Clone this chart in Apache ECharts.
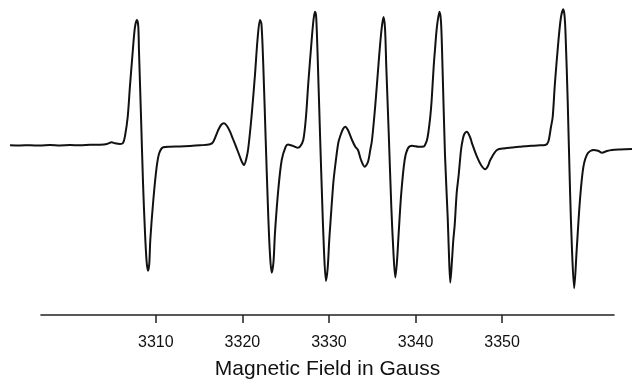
<!DOCTYPE html>
<html>
<head>
<meta charset="utf-8">
<script src="https://cdn.jsdelivr.net/npm/echarts@6/dist/echarts.min.js"></script>
<style>html,body{margin:0;padding:0;background:#fff}#c{width:632px;height:380px}</style>
</head>
<body>
<div id="c"></div>
<script>
// Magnetic field (Gauss)
var field = [3293.16,3294.31,3295.47,3296.62,3297.78,3298.93,3300.09,3301.24,3302.40,3303.55,3304.36,3304.90,3305.28,3305.86,3306.21,3306.44,3306.75,3307.02,3307.28,3307.51,3307.65,3307.82,3307.97,3308.05,3308.29,3308.52,3308.75,3308.94,3309.09,3309.24,3309.36,3309.71,3310.10,3310.40,3310.86,3311.64,3312.79,3313.95,3315.10,3316.26,3316.64,3317.21,3317.53,3317.87,3318.22,3318.57,3318.91,3319.34,3319.72,3319.95,3320.18,3320.47,3320.68,3321.07,3321.45,3321.76,3322.03,3322.20,3322.41,3322.69,3322.99,3323.19,3323.38,3323.59,3323.76,3324.14,3324.54,3325.00,3325.26,3325.69,3326.07,3326.38,3326.65,3327.03,3327.34,3327.61,3328.00,3328.21,3328.38,3328.53,3328.81,3328.96,3329.19,3329.42,3329.65,3329.85,3330.03,3330.15,3330.50,3330.73,3331.07,3331.30,3331.62,3331.88,3332.19,3332.66,3333.04,3333.35,3333.70,3334.12,3334.50,3334.77,3334.97,3335.35,3335.74,3336.04,3336.29,3336.47,3336.62,3336.90,3337.20,3337.43,3337.66,3337.85,3338.05,3338.35,3338.74,3339.12,3339.59,3340.36,3340.94,3341.09,3341.32,3341.47,3341.70,3341.86,3342.09,3342.24,3342.47,3342.76,3342.94,3343.09,3343.40,3343.71,3343.84,3344.01,3344.21,3344.36,3344.52,3344.75,3344.98,3345.25,3345.44,3345.63,3345.92,3346.29,3346.52,3347.09,3347.56,3348.05,3348.36,3348.63,3349.40,3350.36,3351.14,3351.91,3352.64,3353.45,3354.37,3354.98,3355.33,3355.64,3355.84,3356.10,3356.51,3356.80,3357.06,3357.20,3357.32,3357.57,3357.84,3358.07,3358.32,3358.61,3358.99,3359.39,3359.89,3360.55,3361.07,3361.53,3362.11,3362.69,3363.61,3365.00];
// EPR first-derivative signal (arbitrary units)
var signal = [-0.3,-0.5,-0.2,-0.6,0,-0.4,-0.1,-0.3,0.2,0.3,1.0,2.7,1.7,1.0,2,9,28,60,88,112,121,125,119,95,28,-38,-88,-117,-125.7,-119,-95,-55,-21.7,-8,-2.3,-1.7,-1.5,-1,-0.3,0.7,3.3,15,20,21.7,19,13.3,6,-3.3,-12,-17,-20,-13,-3,30,70,107,125,121,80,5,-72,-110,-127.7,-117,-88,-45,-15,-1.7,0.5,-0.5,-1.7,-2.7,-1.7,5,28,62,105,125,133.3,127,55,12,-50,-105,-136,-123,-95,-80,-38,-20,2,9,16,18.3,15,5,-1.7,-5,-15,-21.7,-17,-5,5,40,83,113,128,117,78,12,-62,-105,-132.5,-117,-88,-48,-15,-3.3,-0.7,-1.7,-1.5,0,5,12,28.3,45,78,95,118.3,133.3,123,85,-10,-72,-105,-137.7,-115,-95,-80,-48,-30,-5,5,11,13.3,8,1.7,-11.7,-20,-24.3,-21,-15,-5,-3.3,-2.5,-1.7,-1.3,-0.7,-0.3,0,3.3,18,28,62,105,128,135.7,130,112,45,-45,-105,-143.3,-105,-55,-21.7,-8.3,-5,-5.8,-7.7,-6,-5,-4.5,-4];
var tickFirst = 3310, tickLast = 3350, tickStep = 10;
var axisTitle = 'Magnetic Field in Gauss';

var pts = field.map(function (f, i) { return [f, signal[i]]; });
var chart = echarts.init(document.getElementById('c'), null, {renderer: 'canvas'});
chart.setOption({
  animation: false,
  backgroundColor: '#ffffff',
  grid: [
    {left: 0, right: 0, top: 0, height: 300, containLabel: false, outerBoundsMode: 'none'},
    {left: 41, right: 18, top: 0, height: 315, containLabel: false, outerBoundsMode: 'none'},
    {left: 155.8, right: 129.9, top: 0, height: 315, containLabel: false, outerBoundsMode: 'none'}
  ],
  xAxis: [
    {gridIndex: 0, type: 'value', min: 3292, max: 3365, show: false},
    {gridIndex: 1, type: 'value', min: 3296.74, max: 3362.92,
     axisLine: {show: true, lineStyle: {color: '#222', width: 1.6}},
     axisTick: {show: false}, axisLabel: {show: false}, splitLine: {show: false},
     name: axisTitle, nameLocation: 'middle', nameGap: 44,
     nameTextStyle: {fontSize: 21, color: '#111', fontFamily: 'Liberation Sans'}
    },
    {gridIndex: 2, type: 'value', min: tickFirst, max: tickLast, interval: tickStep,
     axisLine: {show: false},
     axisTick: {show: true, inside: false, length: 8, lineStyle: {color: '#222', width: 1.5}},
     axisLabel: {show: true, showMinLabel: true, showMaxLabel: true, fontSize: 16, color: '#111',
                 fontFamily: 'Liberation Sans', margin: 20,
                 formatter: function (v) { return String(v); }},
     splitLine: {show: false}
    }
  ],
  yAxis: [
    {gridIndex: 0, type: 'value', min: -155, max: 145, show: false},
    {gridIndex: 1, type: 'value', min: 0, max: 1, show: false},
    {gridIndex: 2, type: 'value', min: 0, max: 1, show: false}
  ],
  series: [{
    type: 'line', xAxisIndex: 0, yAxisIndex: 0,
    data: pts, showSymbol: false, symbol: 'none',
    smooth: 0.3,
    lineStyle: {color: '#111', width: 2},
    silent: true
  }]
});
</script>
</body>
</html>
